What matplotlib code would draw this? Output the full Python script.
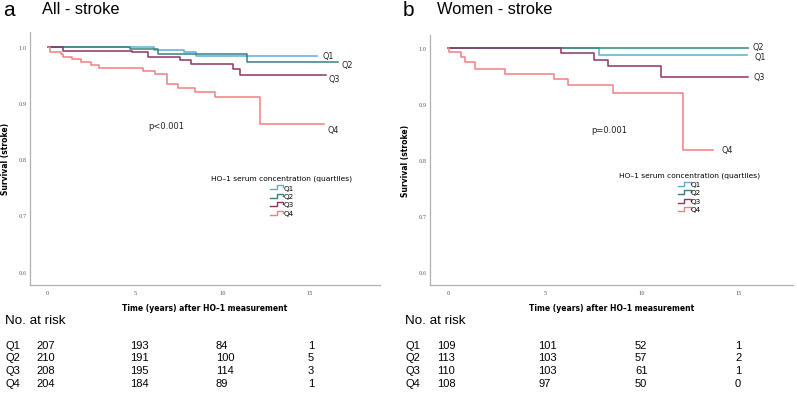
import matplotlib
matplotlib.use("Agg")
import matplotlib.pyplot as plt
from matplotlib.lines import Line2D
from matplotlib.legend_handler import HandlerBase

# Kaplan-Meier steps (time in years, survival)
a_q1_t = [0, 6.1, 7.8, 8.5, 15.4]
a_q1_s = [1.0, 0.994, 0.990, 0.984, 0.984]
a_q2_t = [0, 4.7, 6.3, 11.4, 16.6]
a_q2_s = [1.0, 0.995, 0.987, 0.972, 0.972]
a_q3_t = [0, 0.9, 4.8, 5.75, 7.55, 8.2, 10.6, 11.0, 15.9]
a_q3_s = [1.0, 0.992, 0.990, 0.982, 0.977, 0.970, 0.960, 0.949, 0.949]
a_q4_t = [0, 0.13, 0.75, 0.9, 1.4, 1.9, 2.5, 2.95, 5.45, 6.15, 6.85, 7.45, 8.45, 9.55, 12.15, 15.8]
a_q4_s = [1.0, 0.991, 0.987, 0.982, 0.978, 0.972, 0.968, 0.962, 0.957, 0.952, 0.934, 0.927, 0.920, 0.910, 0.862, 0.862]

b_q1_t = [0, 7.8, 15.45]
b_q1_s = [1.0, 0.989, 0.989]
b_q2_t = [0, 15.5]
b_q2_s = [1.0, 1.0]
b_q3_t = [0, 5.85, 7.55, 8.25, 11.0, 15.5]
b_q3_s = [1.0, 0.992, 0.980, 0.968, 0.949, 0.949]
b_q4_t = [0, 0.05, 0.65, 0.85, 1.4, 2.95, 5.45, 6.2, 8.5, 12.15, 13.7]
b_q4_s = [1.0, 0.993, 0.984, 0.975, 0.964, 0.955, 0.945, 0.934, 0.920, 0.819, 0.819]

groups = ["Q1", "Q2", "Q3", "Q4"]
colors = ["#5aaede", "#3b7f80", "#8c3566", "#f27f84"]

x_ticks = [0, 5, 10, 15]
y_ticks = [0.6, 0.7, 0.8, 0.9, 1.0]

risk_a = [[207, 193, 84, 1], [210, 191, 100, 5], [208, 195, 114, 3], [204, 184, 89, 1]]
risk_b = [[109, 101, 52, 1], [113, 103, 57, 2], [110, 103, 61, 1], [108, 97, 50, 0]]

W, H = 797, 406
SANS = "Liberation Sans"
SPSS = "DejaVu Sans"


class StepHandler(HandlerBase):
    def create_artists(self, legend, orig, xdescent, ydescent, width, height, fontsize, trans):
        x0, y0 = -xdescent, -ydescent + height * 0.1
        y1 = -ydescent + height * 0.8
        xs = [x0, x0 + width * 0.5, x0 + width * 0.5, x0 + width, x0 + width]
        ys = [y0, y0, y1, y1, (y0 + y1) / 2]
        ln = Line2D(xs, ys, color=orig.get_color(), linewidth=1.0, transform=trans)
        return [ln]


def make_axes(fig, left, right, top, bottom):
    return fig.add_axes([left / W, 1 - bottom / H, (right - left) / W, (bottom - top) / H])


def style_axes(ax, xlim, ylim):
    ax.set_xlim(xlim)
    ax.set_ylim(ylim)
    ax.set_xticks(x_ticks)
    ax.set_yticks(y_ticks)
    ax.set_yticklabels([f"{v:.1f}" for v in y_ticks])
    for side in ["top", "right"]:
        ax.spines[side].set_visible(False)
    for side in ["left", "bottom"]:
        ax.spines[side].set_color("#b0b0b0")
        ax.spines[side].set_linewidth(0.9)
    ax.tick_params(length=0, labelsize=3.6, labelcolor="#555555")
    ax.tick_params(axis="x", pad=3.5)
    ax.tick_params(axis="y", pad=2.5)
    for lab in ax.get_xticklabels() + ax.get_yticklabels():
        lab.set_family("DejaVu Serif")
    ax.set_xlabel("Time (years) after HO\u20131 measurement", fontsize=5.5, fontweight="bold", family=SPSS, labelpad=6)
    ax.set_ylabel("Survival (stroke)", fontsize=5.5, fontweight="bold", family=SPSS, labelpad=6)


def draw_panel(ax, curves, label_offsets, pval, pxy, leg_anchor):
    handles = []
    for (t, s), name, col, off in zip(curves, groups, colors, label_offsets):
        ln, = ax.step(t, s, where="post", color=col, linewidth=1.1, label=name)
        handles.append(ln)
        ax.annotate(name, (t[-1], s[-1]), xytext=off, textcoords="offset pixels",
                    fontsize=5.8, family=SPSS, va="center", ha="left", color="#222222")
    ax.text(pxy[0], pxy[1], pval, fontsize=6, family=SPSS, ha="center", va="center", color="#222222")
    leg = ax.legend(handles=handles, labels=groups, handler_map={Line2D: StepHandler()},
                    title="HO\u20131 serum concentration (quartiles)", loc="upper center",
                    bbox_to_anchor=leg_anchor, bbox_transform=fig.transFigure, frameon=False,
                    prop={"family": SPSS, "size": 5.2}, title_fontproperties={"family": SPSS, "size": 5.4},
                    handlelength=1.75, handleheight=0.8, handletextpad=0.05, labelspacing=0.3,
                    borderpad=0, borderaxespad=0)
    leg._legend_box.sep = 2


def risk_table(fig, ax, header_x, row_x, col_x, table):
    fig.text(header_x / W, 1 - 321 / H, "No. at risk", fontsize=9.6, family=SANS, va="center", ha="left")
    row_y = [345.7, 358.4, 371.1, 383.8]
    for name, vals, y in zip(groups, table, row_y):
        fig.text(row_x / W, 1 - y / H, name, fontsize=8, family=SANS, va="center", ha="left")
        for v, x in zip(vals, col_x):
            fig.text(x / W, 1 - y / H, str(v), fontsize=8, family=SANS, va="center", ha="left")


fig = plt.figure(figsize=(W / 100, H / 100), dpi=100)

# panel a
ax_a = make_axes(fig, 30, 380, 33, 285.7)
style_axes(ax_a, (-1.01, 19.0), (0.577, 1.026))
draw_panel(ax_a, [(a_q1_t, a_q1_s), (a_q2_t, a_q2_s), (a_q3_t, a_q3_s), (a_q4_t, a_q4_s)],
           [(5, 0), (3, -2), (3, -3), (3, -5)], "p<0.001", (6.76, 0.860), (282 / W, 1 - 176 / H))
fig.text(3 / W, 1 - 11 / H, "a", fontsize=15, family=SANS, va="center", ha="left")
fig.text(42 / W, 1 - 10 / H, "All - stroke", fontsize=11.8, family=SANS, va="center", ha="left")
risk_table(fig, ax_a, 5, 5, [36.7, 130, 216, 308], risk_a)

# panel b
ax_b = make_axes(fig, 430, 793, 36, 285.7)
style_axes(ax_b, (-0.95, 17.83), (0.578, 1.024))
draw_panel(ax_b, [(b_q1_t, b_q1_s), (b_q2_t, b_q2_s), (b_q3_t, b_q3_s), (b_q4_t, b_q4_s)],
           [(8, -2), (5, 2), (6, 0), (8, 0)], "p=0.001", (8.31, 0.856), (689.5 / W, 1 - 172.5 / H))
fig.text(403 / W, 1 - 11 / H, "b", fontsize=15, family=SANS, va="center", ha="left")
fig.text(437 / W, 1 - 10 / H, "Women - stroke", fontsize=11.8, family=SANS, va="center", ha="left")
risk_table(fig, ax_b, 405, 405, [437.3, 538.3, 635, 735], risk_b)

fig.savefig("out.png", dpi=100)
